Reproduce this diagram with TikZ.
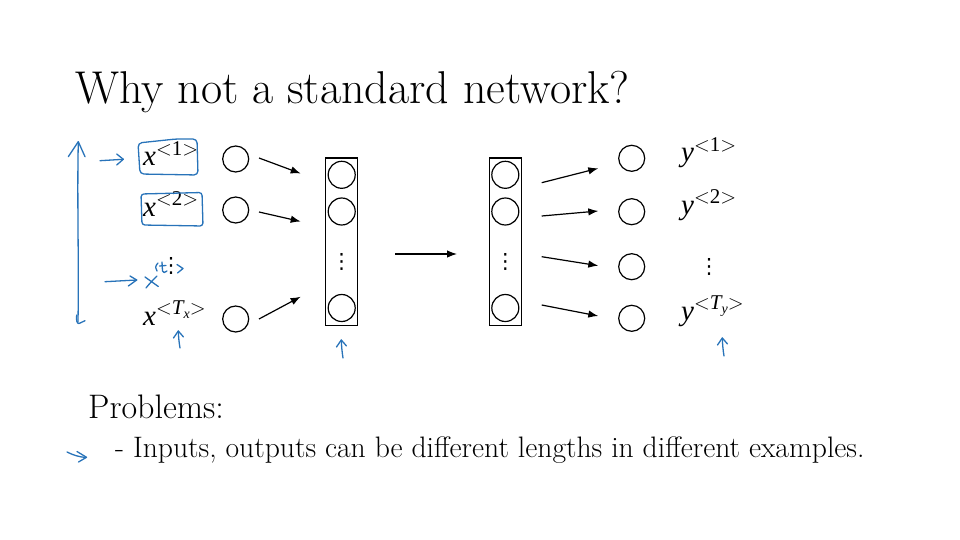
\documentclass[tikz,border=0pt]{standalone}
\usepackage{fontspec}
\usetikzlibrary{arrows.meta}
\newfontfamily\libserif{Liberation Serif}
\newfontfamily\dejavu{DejaVu Sans}
\definecolor{penblue}{RGB}{40,115,185}
\newcommand{\seqlab}[2]{{\libserif\fontsize{29}{29}\selectfont\itshape #1}\raisebox{10.5pt}{\libserif\fontsize{21}{21}\selectfont $<$#2$>$}}
\newcommand{\subT}[1]{{\itshape T}\raisebox{-4pt}{\fontsize{14}{14}\selectfont\itshape #1}}
\begin{document}
\begin{tikzpicture}[x=1pt,y=-1pt,
  neuron/.style={circle,draw,line width=1.2pt,minimum size=26pt,inner sep=0},
  hneuron/.style={circle,draw,line width=1.2pt,minimum size=27pt,inner sep=0},
  layerbox/.style={draw,line width=1.4pt,minimum width=32pt,minimum height=167pt,inner sep=0},
  arr/.style={line width=1.2pt,-{Latex[length=10pt,width=7.5pt]}},
  pen/.style={draw=penblue,line width=1.3pt,line cap=round,line join=round},
  lab/.style={inner sep=0,anchor=base west},
  vd/.style={inner sep=0,font=\dejavu\fontsize{21}{21}\selectfont},
]
\useasboundingbox (0,0) rectangle (960,540);

% title
\node[lab] (title) at (75,104) {\fontsize{46}{54}\selectfont Why not a standard network?};

% input labels
\node[lab] (x1) at (143,166) {\seqlab{x}{1}};
\node[lab] (x2) at (143,216) {\seqlab{x}{2}};
\node[vd] (xd) at (171,266) {⋮};
\node[lab] (xT) at (143,325) {\seqlab{x}{\subT{x}}};

% input neurons
\node[neuron] (i1) at (235.7,159) {};
\node[neuron] (i2) at (235.7,210) {};
\node[neuron] (i3) at (235.7,319) {};

% layer 1
\node[layerbox] (L1) at (341.7,241.7) {};
\node[hneuron] (a1) at (341.7,174.8) {};
\node[hneuron] (a2) at (341.7,211.5) {};
\node[vd] (ad) at (341.7,262) {⋮};
\node[hneuron] (a3) at (341.7,308) {};

% layer 2
\node[layerbox] (L2) at (505.3,241.7) {};
\node[hneuron] (b1) at (505.3,174.8) {};
\node[hneuron] (b2) at (505.3,211.5) {};
\node[vd] (bd) at (505.3,262) {⋮};
\node[hneuron] (b3) at (505.3,308) {};

% output neurons
\node[neuron] (o1) at (631.7,158.3) {};
\node[neuron] (o2) at (631.7,211.7) {};
\node[neuron] (o3) at (631.7,266.7) {};
\node[neuron] (o4) at (631.7,318.3) {};

% output labels
\node[lab] (y1) at (681,162) {\seqlab{y}{1}};
\node[lab] (y2) at (681,214) {\seqlab{y}{2}};
\node[vd] (yd) at (709,267) {⋮};
\node[lab] (yT) at (681,320) {\seqlab{y}{\subT{y}}};

% arrow end points
\coordinate (s1) at (259,158);   \coordinate (e1) at (300.7,173.5);
\coordinate (s2) at (259,212);   \coordinate (e2) at (300.7,221.5);
\coordinate (s3) at (259,319);   \coordinate (e3) at (300.7,296.7);
\coordinate (m1) at (395,254);   \coordinate (m2) at (457,254);
\coordinate (t1) at (541.7,182.7); \coordinate (u1) at (598.3,168.3);
\coordinate (t2) at (541.7,216);   \coordinate (u2) at (598.3,211);
\coordinate (t3) at (541.7,256.7); \coordinate (u3) at (598.3,265.7);
\coordinate (t4) at (541.7,305);   \coordinate (u4) at (598.3,316);

\draw[arr] (s1) -- (e1);
\draw[arr] (s2) -- (e2);
\draw[arr] (s3) -- (e3);
\draw[arr] (m1) -- (m2);
\draw[arr] (t1) -- (u1);
\draw[arr] (t2) -- (u2);
\draw[arr] (t3) -- (u3);
\draw[arr] (t4) -- (u4);

% problems
\node[lab] (prob) at (88,418) {\fontsize{34}{40}\selectfont Problems:};
\node[lab] (bul) at (115,457) {\fontsize{29.6}{34}\selectfont - Inputs, outputs can be different lengths in different examples.};

% ---- blue handwritten annotations ----
% vertical double arrow
\draw[pen] (78.3,142) .. controls (77,200) and (79,260) .. (78,322);
\draw[pen] (68.3,156.7) -- (78.3,141.7) -- (85,156.7);
\draw[pen] (76.7,315) .. controls (76,320) and (77,324) .. (79,323.5) -- (85,320.7);
% arrow to x<1>
\draw[pen] (100,160.7) -- (123.3,159.3);
\draw[pen] (116.7,154) -- (123.3,159.3) -- (116.7,165);
% boxes
\draw[pen,rounded corners=4pt] (138,143) -- (176,139) -- (197,139) -- (198,175) -- (140,174) -- cycle;
\draw[pen,rounded corners=3pt] (141,194) -- (202,192.5) -- (203,226) -- (142,225) -- cycle;
% arrow to x<t>
\draw[pen] (105,281.7) -- (136.7,280);
\draw[pen] (130,276) -- (136.7,280) -- (128.3,286);
% handwritten x<t>
\draw[pen] (145,277) -- (158.3,286.5);
\draw[pen] (157,276) .. controls (153,280) and (149,284) .. (146,288);
\draw[pen] (158,263) .. controls (155,266) and (155,269) .. (157,271);
\draw[pen] (162,262) -- (162.5,271) .. controls (163,273) and (165,273) .. (167,271);
\draw[pen] (159.5,266) -- (166,265.5);
\draw[pen] (177,264.5) -- (183,268.5) -- (177.5,273);
% up arrows
\draw[pen] (180,348) .. controls (179,342) and (178.5,337) .. (178.3,331);
\draw[pen] (173.5,338) -- (178.3,331) -- (183.5,337);
\draw[pen] (343,358) .. controls (342,352) and (341.5,346) .. (341.3,340);
\draw[pen] (336.5,347) -- (341.3,340) -- (346.5,346);
\draw[pen] (724,356) .. controls (723,350) and (722.5,344) .. (722.3,338);
\draw[pen] (717.5,345) -- (722.3,338) -- (727.5,344);
% arrow at problem bullet
\draw[pen] (67,452) .. controls (73,455) and (79,457) .. (86,457.5);
\draw[pen] (77,451.5) -- (86.5,457.3) -- (78.5,462);
\end{tikzpicture}
\end{document}
